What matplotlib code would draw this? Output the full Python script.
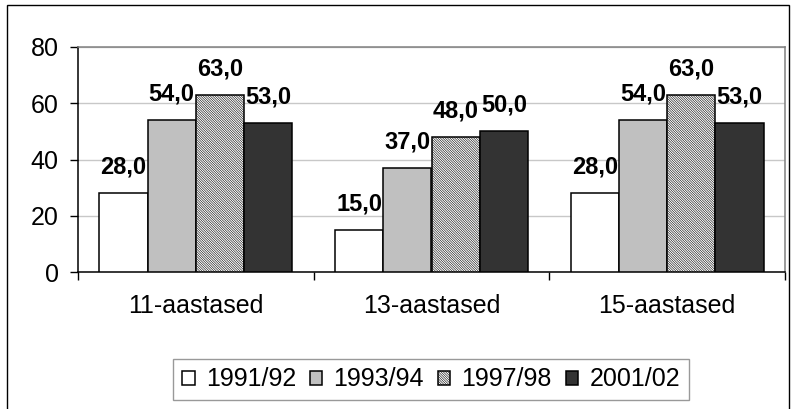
import matplotlib
matplotlib.use("Agg")
import matplotlib.pyplot as plt
import matplotlib.patches as patches
import numpy as np

plt.rcParams["font.family"] = ["Liberation Sans", "DejaVu Sans"]
plt.rcParams["hatch.linewidth"] = 0.4
plt.rcParams["hatch.color"] = "#333333"

# Data
groups = ["11-aastased", "13-aastased", "15-aastased"]
seasons = ["1991/92", "1993/94", "1997/98", "2001/02"]
v_1991 = [28.0, 15.0, 28.0]
v_1993 = [54.0, 37.0, 54.0]
v_1997 = [63.0, 48.0, 63.0]
v_2001 = [53.0, 50.0, 53.0]
series = [v_1991, v_1993, v_1997, v_2001]

# Fill styles per season
faces   = ["#FFFFFF", "#C0C0C0", "#FFFFFF", "#333333"]
hatches = [None, None, "\\" * 14, None]

W, H = 792, 409
fig = plt.figure(figsize=(W / 100, H / 100), dpi=100)
fig.patch.set_facecolor("white")

# outer chart frame (bottom edge falls off the image)
frame = patches.Rectangle((7 / W, -0.05), (789 - 7) / W, 1 - 5 / H + 0.05,
                          transform=fig.transFigure, fill=False,
                          edgecolor="black", linewidth=1.0, clip_on=False)
fig.add_artist(frame)

ax = fig.add_axes([78 / W, 1 - 272 / H, (785 - 78) / W, (272 - 47) / H])

x = np.arange(len(groups))
bw = 0.205
for i, (vals, fc, ht, lab) in enumerate(zip(series, faces, hatches, seasons)):
    ax.bar(x + (i - 1.5) * bw, vals, width=bw, color=fc,
           edgecolor="black", linewidth=1.1, hatch=ht, label=lab, zorder=3)
    for xb, v in zip(x + (i - 1.5) * bw, vals):
        ax.annotate(f"{v:.1f}".replace(".", ","), (xb, v),
                    xytext=(0, 14), textcoords="offset points",
                    ha="center", va="baseline", fontsize=17,
                    fontweight="bold", color="black", zorder=4)

ax.set_xlim(-0.5, 2.5)
ax.set_ylim(0, 80)
ax.set_yticks([0, 20, 40, 60, 80])
ax.yaxis.grid(True, color="#C8C8C8", linewidth=1.0, zorder=0)
ax.set_axisbelow(True)

ax.set_xticks(x)
ax.set_xticklabels(groups, fontsize=18)
ax.set_xticks([-0.5, 0.5, 1.5, 2.5], minor=True)
ax.tick_params(axis="x", which="major", length=0, pad=16)
ax.tick_params(axis="x", which="minor", length=6, width=1.0, direction="out")
ax.tick_params(axis="y", length=6, width=1.0, direction="out", pad=8,
               labelsize=18)

for side in ["left", "bottom"]:
    ax.spines[side].set_color("black")
    ax.spines[side].set_linewidth(1.1)
for side in ["top", "right"]:
    ax.spines[side].set_color("#808080")
    ax.spines[side].set_linewidth(1.1)

leg = fig.legend(loc="center", bbox_to_anchor=(431 / W, 1 - 379.5 / H),
                 ncol=4, fontsize=18, frameon=True, fancybox=False,
                 edgecolor="#808080", handlelength=0.5, handleheight=0.5,
                 handletextpad=0.45, columnspacing=0.55, borderpad=0.35,
                 borderaxespad=0)
leg.get_frame().set_linewidth(1.0)

fig.savefig("out.png", dpi=100, facecolor="white")
